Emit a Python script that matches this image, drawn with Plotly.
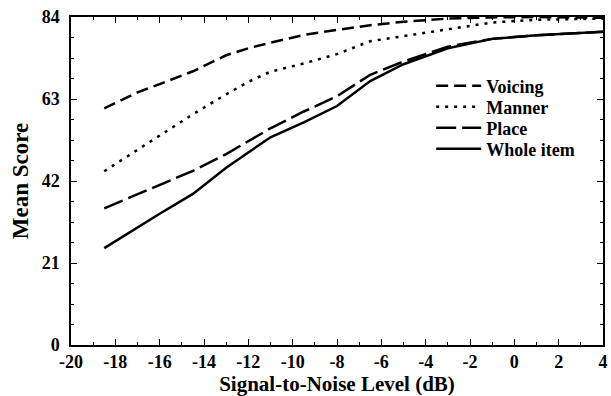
import plotly.graph_objects as go

snr = [-18.5, -17, -16, -14.5, -13, -12, -11, -9.5, -8, -6.5, -5, -3, -1, 1, 4]
voicing = [60.6, 64.7, 66.8, 70.1, 74.2, 76.0, 77.4, 79.4, 80.7, 81.9, 82.8, 83.6, 83.9, 84.0, 83.8]
manner = [44.5, 49.9, 53.6, 59.1, 64.2, 67.4, 70.0, 72.1, 74.5, 77.8, 79.1, 80.9, 82.6, 83.3, 83.6]
place = [35.0, 38.6, 41.2, 44.6, 48.9, 52.1, 55.5, 59.8, 63.7, 69.2, 72.6, 76.4, 78.4, 79.3, 80.2]
whole = [24.8, 30.1, 33.6, 38.7, 45.4, 49.3, 53.2, 57.0, 61.2, 67.6, 71.9, 76.0, 78.4, 79.3, 80.2]

x_ticks = [-20, -18, -16, -14, -12, -10, -8, -6, -4, -2, 0, 2, 4]
x_tick_labels = ["-20", "-18", "-16", "-14", "-12", "-10", "-8", "-6", "-4", "-2", "0", "2", "4"]
x_minor = [-19, -17, -15, -13, -11, -9, -7, -5, -3, -1, 1, 3]
y_ticks = [0, 21, 42, 63, 84]
y_tick_labels = ["0", "21", "42", "63", "84"]
y_minor = [5.25, 10.5, 15.75, 26.25, 31.5, 36.75, 47.25, 52.5, 57.75, 68.25, 73.5, 78.75]

series = [
    ("Voicing", voicing, "12px,6px", "legend", 0.7896),
    ("Manner", manner, "3px,6px", "legend2", 0.7256),
    ("Place", place, "20px,6px", "legend3", 0.6616),
    ("Whole item", whole, "solid", "legend4", 0.5976),
]

font_family = "Liberation Serif, Times New Roman, DejaVu Serif, serif"
legend_font = dict(family=font_family, size=18, color="black", weight="bold")

fig = go.Figure()
legends = {}
for name, vals, dash, leg, ly in series:
    fig.add_trace(go.Scatter(x=snr, y=vals, mode="lines", name=name, legend=leg, showlegend=True,
                             line=dict(color="black", width=2.5, dash=dash)))
    legends[leg] = dict(x=0.677, y=ly, xanchor="left", yanchor="middle", itemwidth=45,
                        bgcolor="rgba(0,0,0,0)", font=legend_font, visible=True)

axis_common = dict(
    showline=True, linecolor="black", linewidth=1.5, mirror="allticks",
    ticks="inside", ticklen=6, tickwidth=1.2, tickcolor="black",
    showgrid=False, zeroline=False, automargin=False,
    tickfont=dict(family=font_family, size=18, color="black", weight="bold"),
)

fig.update_xaxes(range=[-20, 4], tickmode="array", tickvals=x_ticks, ticktext=x_tick_labels,
                 minor=dict(tickmode="array", tickvals=x_minor, ticks="inside", ticklen=3,
                            tickcolor="black", tickwidth=1, showgrid=False),
                 title=dict(text="Signal-to-Noise Level (dB)", standoff=6,
                            font=dict(family=font_family, size=21, color="black", weight="bold")),
                 **axis_common)
fig.update_yaxes(range=[0, 84], tickmode="array", tickvals=y_ticks, ticktext=y_tick_labels,
                 ticklabelstandoff=6,
                 minor=dict(tickmode="array", tickvals=y_minor, ticks="inside", ticklen=3,
                            tickcolor="black", tickwidth=1, showgrid=False),
                 title=dict(text="Mean Score", standoff=7,
                            font=dict(family=font_family, size=23, color="black", weight="bold")),
                 **axis_common)

fig.update_layout(
    width=611, height=396,
    margin=dict(l=71, r=8, t=17, b=51),
    plot_bgcolor="white", paper_bgcolor="white",
    showlegend=True,
    **legends,
)

fig.write_html("out.html", config={"displayModeBar": False},
               post_script="document.body.style.margin='0';document.body.style.padding='0';")
